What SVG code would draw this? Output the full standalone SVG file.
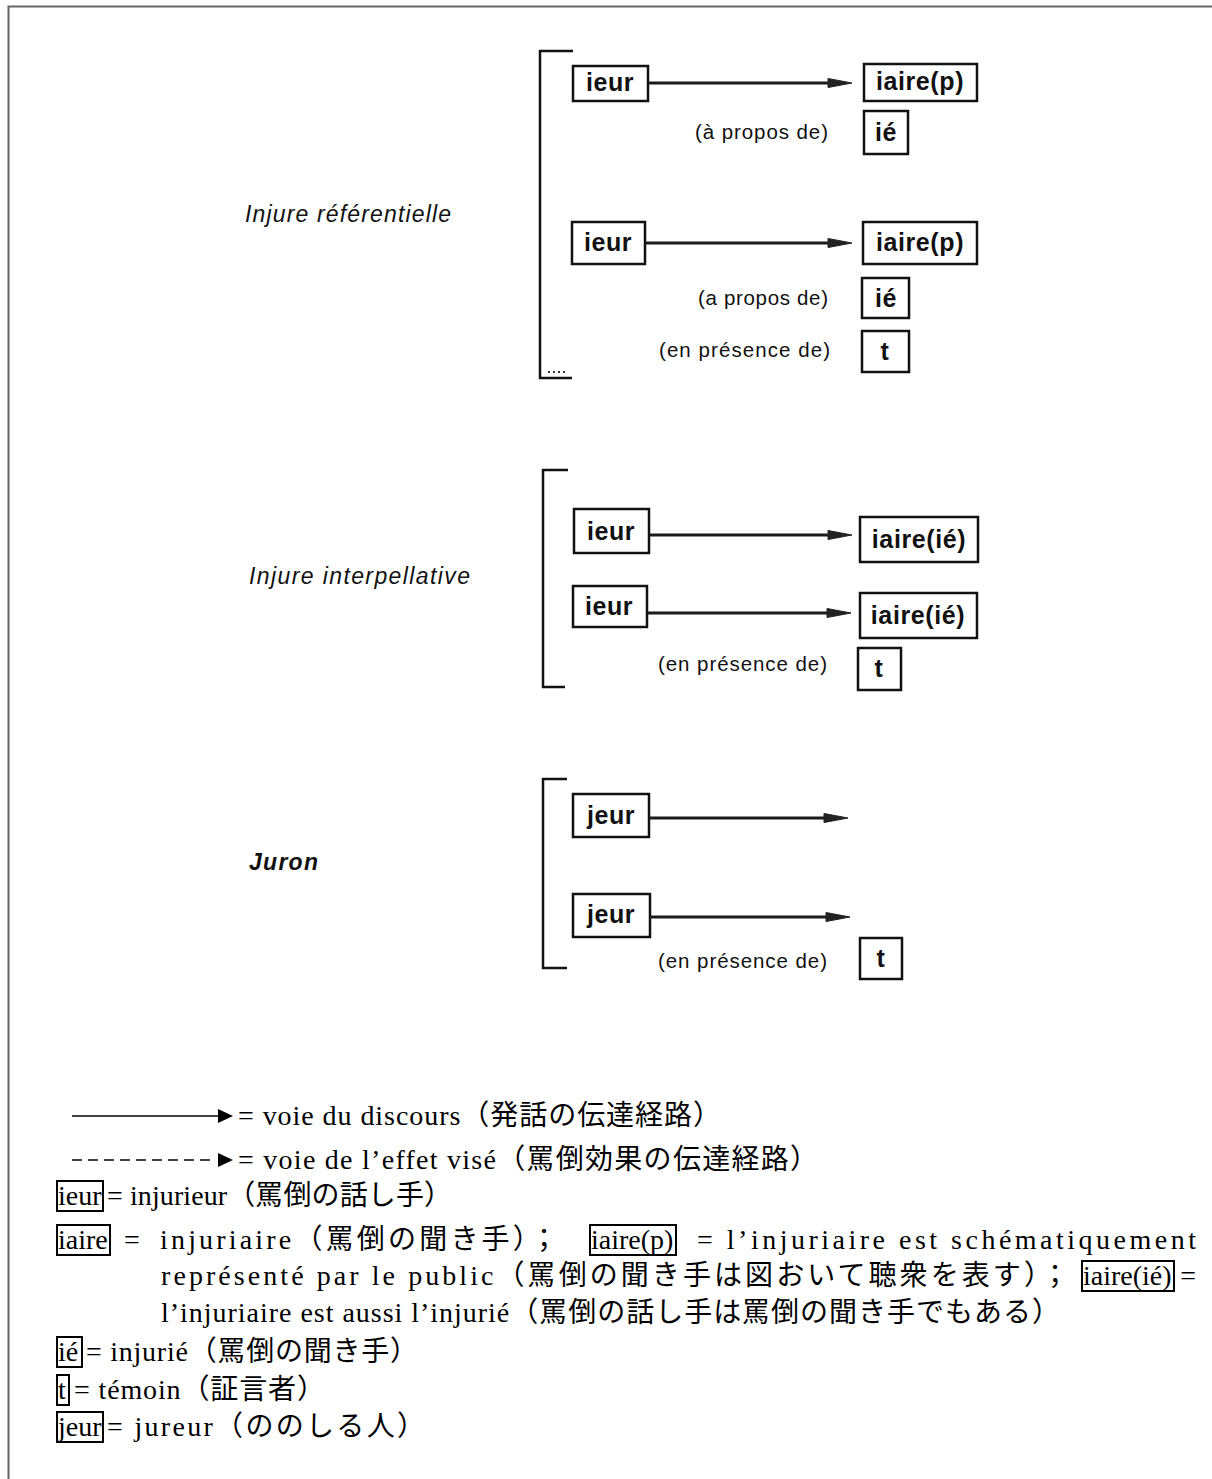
<svg xmlns="http://www.w3.org/2000/svg" width="1212" height="1479" viewBox="0 0 1212 1479">
<style>
.bx{fill:none;stroke:#111;stroke-width:2.5}
.nt{font-family:"Liberation Sans",Arial,sans-serif;font-weight:bold;font-size:25px;fill:#111;text-anchor:middle;letter-spacing:0.6px}
.lb{font-family:"Liberation Sans",Arial,sans-serif;font-size:20.5px;fill:#111}
.ti{font-family:"Liberation Sans",Arial,sans-serif;font-style:italic;font-size:23px;fill:#111}
.br{fill:none;stroke:#111;stroke-width:2.5}
.ln{stroke:#1a1a1a;stroke-width:3.2}
.ah{fill:#222;stroke:#222;stroke-width:1}
.lg{font-family:"Liberation Serif","Times New Roman","Noto Sans CJK JP",serif;font-size:28px;fill:#000}
.lbx{fill:none;stroke:#000;stroke-width:2}
</style>
<path d="M8.5,1479 V6.5 H1212" fill="none" stroke="#666" stroke-width="2"/>

<!-- Section titles -->
<g id="title-referentielle"><text class="ti" x="245" y="222" textLength="206" lengthAdjust="spacing">Injure référentielle</text></g>
<g id="title-interpellative"><text class="ti" x="249" y="584" textLength="221" lengthAdjust="spacing">Injure interpellative</text></g>
<g id="title-juron"><text class="ti" x="249" y="870" font-weight="bold" textLength="69" lengthAdjust="spacing">Juron</text></g>

<!-- Brackets -->
<g id="brackets">
<path class="br" d="M573,51 H540 V378 H572"/>
<g fill="#333"><rect x="548" y="371" width="2" height="2"/><rect x="553" y="371" width="2" height="2"/><rect x="558" y="371" width="2" height="2"/><rect x="563" y="371" width="2" height="2"/></g>
<path class="br" d="M568,470 H543 V687 H565"/>
<path class="br" d="M567,779 H543 V968 H567"/>
</g>

<!-- Section 1 -->
<g id="n-ieur1"><rect class="bx" x="573" y="66" width="75" height="35"/><text class="nt" x="610" y="91">ieur</text></g>
<g id="n-iairep1"><rect class="bx" x="864" y="64" width="113" height="37"/><text class="nt" x="920" y="90">iaire(p)</text></g>
<g id="l-apropos1"><text class="lb" x="695" y="139" textLength="133" lengthAdjust="spacing">(à propos de)</text></g>
<g id="n-ie1"><rect class="bx" x="864" y="111" width="44" height="43"/><text class="nt" x="886" y="141">ié</text></g>

<g id="n-ieur2"><rect class="bx" x="572" y="222" width="73" height="42"/><text class="nt" x="608" y="251">ieur</text></g>
<g id="n-iairep2"><rect class="bx" x="863" y="222" width="114" height="42"/><text class="nt" x="920" y="251">iaire(p)</text></g>
<g id="l-apropos2"><text class="lb" x="698" y="305" textLength="130" lengthAdjust="spacing">(a propos de)</text></g>
<g id="n-ie2"><rect class="bx" x="862" y="278" width="47" height="40"/><text class="nt" x="886" y="307">ié</text></g>
<g id="l-enpresence1"><text class="lb" x="659" y="357" textLength="171" lengthAdjust="spacing">(en présence de)</text></g>
<g id="n-t1"><rect class="bx" x="862" y="331" width="47" height="41"/><text class="nt" x="885" y="360">t</text></g>

<!-- Section 2 -->
<g id="n-ieur3"><rect class="bx" x="574" y="509" width="75" height="44"/><text class="nt" x="611" y="540">ieur</text></g>
<g id="n-iaireie1"><rect class="bx" x="860" y="517" width="118" height="45"/><text class="nt" x="919" y="548">iaire(ié)</text></g>
<g id="n-ieur4"><rect class="bx" x="573" y="586" width="74" height="41"/><text class="nt" x="609" y="615">ieur</text></g>
<g id="n-iaireie2"><rect class="bx" x="860" y="593" width="117" height="45"/><text class="nt" x="918" y="624">iaire(ié)</text></g>
<g id="l-enpresence2"><text class="lb" x="658" y="671" textLength="169" lengthAdjust="spacing">(en présence de)</text></g>
<g id="n-t2"><rect class="bx" x="858" y="648" width="43" height="42"/><text class="nt" x="879" y="677">t</text></g>

<!-- Section 3 -->
<g id="n-jeur1"><rect class="bx" x="573" y="794" width="76" height="43"/><text class="nt" x="611" y="824">jeur</text></g>
<g id="n-jeur2"><rect class="bx" x="573" y="894" width="77" height="43"/><text class="nt" x="611" y="923">jeur</text></g>
<g id="l-enpresence3"><text class="lb" x="658" y="968" textLength="169" lengthAdjust="spacing">(en présence de)</text></g>
<g id="n-t3"><rect class="bx" x="860" y="938" width="42" height="41"/><text class="nt" x="881" y="967">t</text></g>

<!-- Connectors -->
<g id="connectors">
<line class="ln" x1="648" y1="83" x2="830" y2="83"/><polygon class="ah" points="828,78.5 852,83 828,87.5"/>
<line class="ln" x1="645" y1="243" x2="830" y2="243"/><polygon class="ah" points="828,238.5 852,243 828,247.5"/>
<line class="ln" x1="649" y1="535" x2="830" y2="535"/><polygon class="ah" points="828,530.5 852,535 828,539.5"/>
<line class="ln" x1="647" y1="613" x2="829" y2="613"/><polygon class="ah" points="827,608.5 851,613 827,617.5"/>
<line class="ln" x1="649" y1="818" x2="826" y2="818"/><polygon class="ah" points="824,813.5 848,818 824,822.5"/>
<line class="ln" x1="650" y1="917" x2="828" y2="917"/><polygon class="ah" points="826,912.5 850,917 826,921.5"/>
</g>

<!-- Legend -->
<g id="legend">
<line x1="72" y1="1116" x2="220" y2="1116" stroke="#000" stroke-width="1.5"/>
<polygon points="218,1109 233,1116 218,1123" fill="#000"/>
<text class="lg" x="238" y="1125" textLength="483" lengthAdjust="spacing">= voie du discours（発話の伝達経路）</text>

<line x1="72" y1="1160" x2="216" y2="1160" stroke="#000" stroke-width="1.5" stroke-dasharray="10,6"/>
<polygon points="218,1153 233,1160 218,1167" fill="#000"/>
<text class="lg" x="238" y="1169" textLength="580" lengthAdjust="spacing">= voie de l’effet visé（罵倒効果の伝達経路）</text>

<rect class="lbx" x="57" y="1181" width="46" height="30"/>
<text class="lg" x="58" y="1205">ieur</text>
<text class="lg" x="107" y="1205" textLength="345" lengthAdjust="spacing">= injurieur（罵倒の話し手）</text>

<rect class="lbx" x="57" y="1225" width="53" height="30"/>
<text class="lg" x="58" y="1249">iaire</text>
<text class="lg" x="124" y="1249">=</text>
<text class="lg" x="160" y="1249" textLength="398" lengthAdjust="spacing">injuriaire（罵倒の聞き手）；</text>
<rect class="lbx" x="590" y="1225" width="86" height="30"/>
<text class="lg" x="591" y="1249">iaire(p)</text>
<text class="lg" x="697" y="1249" textLength="499" lengthAdjust="spacing">= l’injuriaire est schématiquement</text>

<text class="lg" x="161" y="1285" textLength="908" lengthAdjust="spacing">représenté par le public（罵倒の聞き手は図おいて聴衆を表す）；</text>
<rect class="lbx" x="1082" y="1261" width="92" height="30"/>
<text class="lg" x="1083" y="1285">iaire(ié)</text>
<text class="lg" x="1196" y="1285" text-anchor="end">=</text>

<text class="lg" x="161" y="1322" textLength="899" lengthAdjust="spacing">l’injuriaire est aussi l’injurié（罵倒の話し手は罵倒の聞き手でもある）</text>

<rect class="lbx" x="57" y="1337" width="25" height="30"/>
<text class="lg" x="58" y="1361">ié</text>
<text class="lg" x="86" y="1361" textLength="332" lengthAdjust="spacing">= injurié（罵倒の聞き手）</text>

<rect class="lbx" x="57" y="1375" width="12" height="30"/>
<text class="lg" x="58" y="1399">t</text>
<text class="lg" x="74" y="1399" textLength="251" lengthAdjust="spacing">= témoin（証言者）</text>

<rect class="lbx" x="57" y="1412" width="46" height="30"/>
<text class="lg" x="58" y="1436">jeur</text>
<text class="lg" x="107" y="1436" textLength="318" lengthAdjust="spacing">= jureur（ののしる人）</text>
</g>
</svg>
